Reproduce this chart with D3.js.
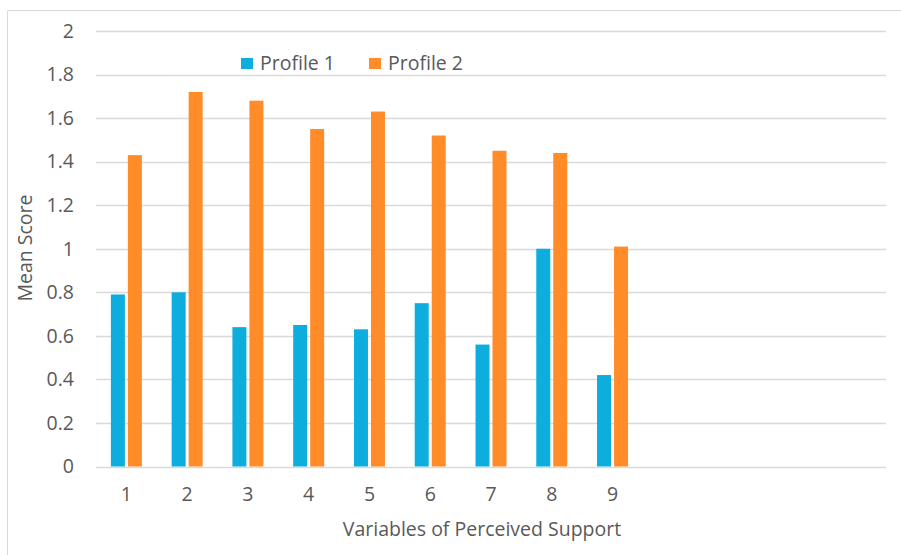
<!DOCTYPE html>
<html>
<head>
<meta charset="utf-8">
<script src="https://cdn.jsdelivr.net/npm/d3@7"></script>
<style>
  html, body { margin: 0; padding: 0; background: #fff; }
  svg { display: block; font-family: "Open Sans", "Noto Sans", sans-serif; }
</style>
</head>
<body>
<svg id="chart" width="901" height="555"></svg>
<script>
// Mean scores of perceived support variables for two profiles
const categories = ["1", "2", "3", "4", "5", "6", "7", "8", "9", "", " ", "  ", "   "];
const labels = ["1", "2", "3", "4", "5", "6", "7", "8", "9"];
const profile1 = [0.79, 0.80, 0.64, 0.65, 0.63, 0.75, 0.56, 1.00, 0.42];
const profile2 = [1.43, 1.72, 1.68, 1.55, 1.63, 1.52, 1.45, 1.44, 1.01];
const seriesNames = ["Profile 1", "Profile 2"];
const seriesColors = ["#0DADDE", "#FF8B29"];
const yTicks = [0, 0.2, 0.4, 0.6, 0.8, 1, 1.2, 1.4, 1.6, 1.8, 2];

const svg = d3.select("#chart");
const textColor = "#595959";
const fontSize = "19.5px";

// outer frame (left and top edges)
svg.append("line").attr("x1", 7.5).attr("x2", 901).attr("y1", 10.5).attr("y2", 10.5)
  .attr("stroke", "#d9d9d9").attr("stroke-width", 1);
svg.append("line").attr("x1", 7.5).attr("x2", 7.5).attr("y1", 10.5).attr("y2", 555)
  .attr("stroke", "#d9d9d9").attr("stroke-width", 1);

const plot = { left: 96, right: 886, top: 31, bottom: 466.5 };

const x = d3.scaleBand().domain(categories).range([plot.left, plot.right]).paddingInner(0).paddingOuter(0);
const y = d3.scaleLinear().domain([0, 2]).range([plot.bottom, plot.top]);

// horizontal gridlines
svg.append("g").selectAll("line").data(yTicks).join("line")
  .attr("x1", plot.left).attr("x2", plot.right)
  .attr("y1", d => Math.round(y(d)) + 0.5).attr("y2", d => Math.round(y(d)) + 0.5)
  .attr("stroke", "#d9d9d9").attr("stroke-width", 1.5);

// y axis tick labels
const yAxis = d3.axisLeft(y).tickValues(yTicks).tickSize(0).tickPadding(0)
  .tickFormat(d => d3.format("~g")(d));
const yg = svg.append("g").attr("transform", `translate(${74},0)`).call(yAxis);
yg.select(".domain").remove();
yg.selectAll("text").attr("fill", textColor).style("font-size", fontSize)
  .style("font-family", '"Open Sans", sans-serif');

// x axis tick labels
const xAxis = d3.axisBottom(x).tickValues(labels).tickSize(0).tickPadding(0);
const xg = svg.append("g").attr("transform", `translate(0,${487})`).call(xAxis);
xg.select(".domain").remove();
xg.selectAll("text").attr("fill", textColor).style("font-size", fontSize)
  .style("font-family", '"Open Sans", sans-serif');

// grouped bars
const barW = 14, gap = 3;
const groupW = barW * 2 + gap;
const series = [profile1, profile2];
series.forEach((vals, si) => {
  svg.append("g").selectAll("rect").data(vals).join("rect")
    .attr("x", (d, i) => x(labels[i]) + x.bandwidth() / 2 - groupW / 2 + si * (barW + gap))
    .attr("y", d => y(d))
    .attr("width", barW)
    .attr("height", d => y(0) - y(d))
    .attr("fill", seriesColors[si]);
});

// axis titles
svg.append("text").attr("x", 482).attr("y", 536)
  .attr("text-anchor", "middle").attr("fill", textColor).style("font-size", fontSize)
  .text("Variables of Perceived Support");
svg.append("text").attr("transform", `translate(${32},${248}) rotate(-90)`)
  .attr("text-anchor", "middle").attr("fill", textColor).style("font-size", fontSize)
  .text("Mean Score");

// legend
const legendX = [241, 369];
seriesNames.forEach((name, i) => {
  const g = svg.append("g").attr("transform", `translate(${legendX[i]},${58})`);
  g.append("rect").attr("width", 12).attr("height", 11).attr("fill", seriesColors[i]);
  g.append("text").attr("x", 19).attr("y", 12).attr("fill", textColor)
    .style("font-size", fontSize).text(name);
});
</script>
</body>
</html>
